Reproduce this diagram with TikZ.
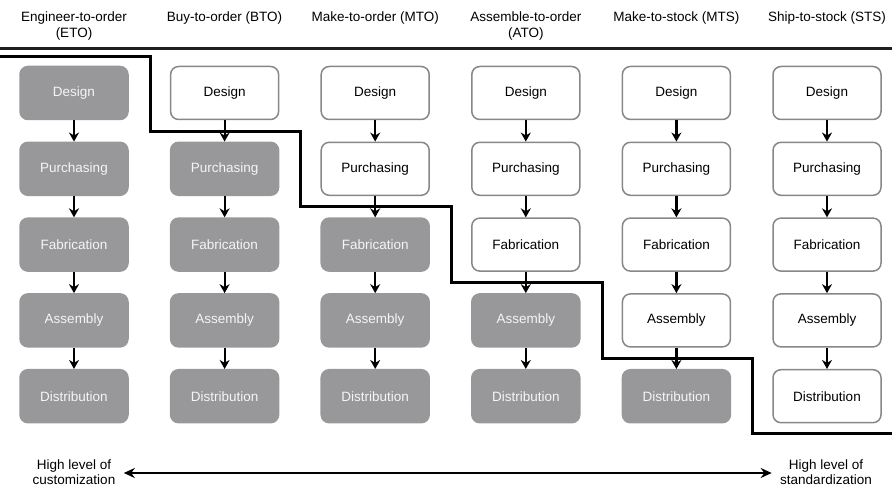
\documentclass[tikz,border=0pt]{standalone}
\usepackage{fontspec}
\setmainfont{Liberation Sans}
\usetikzlibrary{arrows.meta}

\definecolor{shade}{RGB}{152,152,155}
\definecolor{rim}{RGB}{135,135,135}
\tikzset{
    stage/.style={rectangle, rounded corners=8pt, minimum width=108pt, minimum height=53pt,
        line width=1.5pt, draw=rim, fill=white, font=\fontsize{13.5}{15}\selectfont},
    done/.style={fill=shade, draw=shade, text=white!92!gray},
    flow/.style={->, line width=2.2pt},
    title/.style={anchor=north, align=center, font=\fontsize{13.5}{16}\selectfont},
}

\begin{document}
\begin{tikzpicture}[
    x=1pt, y=-1pt,
    > = {Stealth[length=9pt, width=10pt]}, % arrow head style
]
\useasboundingbox (0,0) rectangle (892,489);

% column headings
\foreach \c/\label in {1/{Engineer-to-order\\(ETO)}, 2/{Buy-to-order (BTO)}, 3/{Make-to-order (MTO)},
        4/{Assemble-to-order\\(ATO)}, 5/{Make-to-stock (MTS)}, 6/{Ship-to-stock (STS)}}
    \node[title] (h-\c) at ({74+150.6*(\c-1)}, 8) {\label};
\draw[line width=3pt, gray!25!black] (0,49) -- (892,49);

% stages, shaded from the order point on
\foreach \c in {1,...,6} {
    \foreach \r/\job in {1/Design, 2/Purchasing, 3/Fabrication, 4/Assembly, 5/Distribution} {
        \ifnum\r<\c \def\look{} \else \def\look{done} \fi
        \node[stage, \look] (s-\c-\r) at ({74+150.6*(\c-1)}, {93+75.8*(\r-1)}) {\job};
    }
    \foreach \r [evaluate=\r as \n using int(\r+1)] in {1,...,4}
        \draw[flow] (s-\c-\r) -- (s-\c-\n);
}

% order penetration line
\draw[line width=3pt, line join=miter] (0,57) -- (150,57) -- (150,132) -- (300,132) -- (300,207)
    -- (451,207) -- (451,283) -- (602,283) -- (602,358) -- (752,358) -- (752,433) -- (892,433);

% customization vs standardization
\node[align=center, font=\fontsize{13.5}{15}\selectfont] (cust) at (74,472) {High level of\\customization};
\node[align=center, font=\fontsize{13.5}{15}\selectfont] (stand) at (826,472) {High level of\\standardization};
\draw[<->, line width=2.8pt, >={Stealth[length=11pt, width=10pt]}, shorten <=5pt, shorten >=5pt]
    ([yshift=-1pt]cust.east) -- ([yshift=-1pt]stand.west);
\end{tikzpicture}
\end{document}
